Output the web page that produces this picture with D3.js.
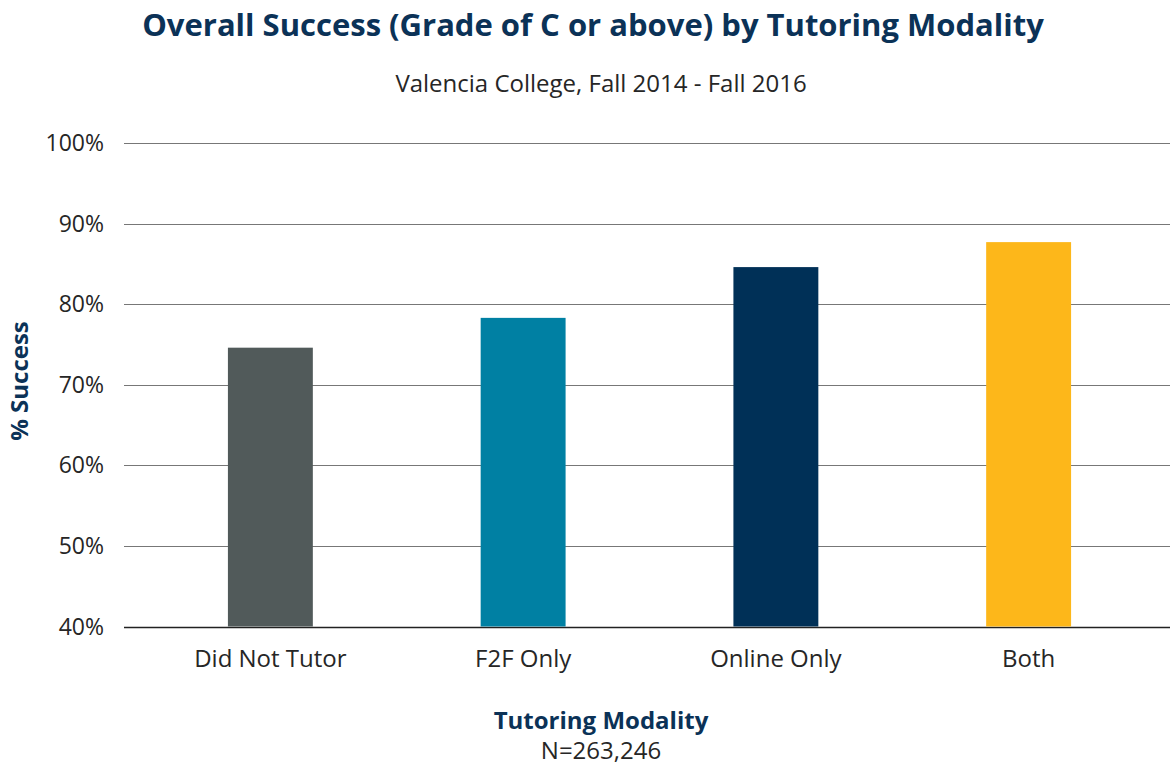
<!DOCTYPE html>
<html>
<head>
<meta charset="utf-8">
<script src="https://cdn.jsdelivr.net/npm/d3@7"></script>
<style>
  body { margin: 0; background: #fff; }
  text { font-family: "Open Sans", sans-serif; }
</style>
</head>
<body>
<svg id="chart"></svg>
<script>
var categories = ["Did Not Tutor", "F2F Only", "Online Only", "Both"];
var successPct = [74.6, 78.3, 84.6, 87.7];
var barColors = ["#515a5a", "#0080a3", "#003057", "#fdb71a"];
var yTicks = [40, 50, 60, 70, 80, 90, 100];

var width = 1170,
    height = 765;

var svg = d3.select("#chart")
    .attr("width", width)
    .attr("height", height);

var x = d3.scaleBand()
    .domain(categories)
    .range([144, 1155])
    .paddingInner(0.664)
    .paddingOuter(0.332);

var y = d3.scaleLinear()
    .domain([40, 100])
    .range([626.5, 143]);

// gridlines
svg.append("g")
    .selectAll("line")
    .data(yTicks)
    .enter()
    .append("line")
    .attr("x1", 124)
    .attr("x2", width)
    .attr("y1", d => Math.round(y(d)) + 0.5)
    .attr("y2", d => Math.round(y(d)) + 0.5)
    .style("stroke", d => d == 40 ? "#222" : "#777")
    .style("stroke-width", d => d == 40 ? 1.5 : 1.2);

// y tick labels
svg.append("g")
    .selectAll("text")
    .data(yTicks)
    .enter()
    .append("text")
    .attr("x", 104)
    .attr("y", d => y(d))
    .attr("dy", "0.35em")
    .attr("text-anchor", "end")
    .style("font-size", "23px")
    .style("fill", "#262626")
    .text(d => d + "%");

// bars
svg.append("g")
    .selectAll("rect")
    .data(categories)
    .enter()
    .append("rect")
    .attr("x", d => x(d))
    .attr("width", x.bandwidth())
    .attr("y", (d, i) => y(successPct[i]))
    .attr("height", (d, i) => y(40) - y(successPct[i]))
    .style("fill", (d, i) => barColors[i]);

// x labels
svg.append("g")
    .selectAll("text")
    .data(categories)
    .enter()
    .append("text")
    .attr("x", d => x(d) + x.bandwidth() / 2)
    .attr("y", 667)
    .attr("text-anchor", "middle")
    .style("font-size", "24px")
    .style("fill", "#262626")
    .text(d => d);

// titles
svg.append("text")
    .attr("x", 593)
    .attr("y", 36)
    .attr("text-anchor", "middle")
    .style("font-size", "31px")
    .style("font-weight", "bold")
    .style("fill", "#0b3257")
    .text("Overall Success (Grade of C or above) by Tutoring Modality");

svg.append("text")
    .attr("x", 601)
    .attr("y", 92)
    .attr("text-anchor", "middle")
    .style("font-size", "24px")
    .style("fill", "#262626")
    .text("Valencia College, Fall 2014 - Fall 2016");

svg.append("text")
    .attr("x", 601)
    .attr("y", 729)
    .attr("text-anchor", "middle")
    .style("font-size", "24px")
    .style("font-weight", "bold")
    .style("fill", "#0b3257")
    .text("Tutoring Modality");

svg.append("text")
    .attr("x", 601)
    .attr("y", 759)
    .attr("text-anchor", "middle")
    .style("font-size", "24px")
    .style("fill", "#262626")
    .text("N=263,246");

svg.append("text")
    .attr("transform", "translate(28,381) rotate(-90)")
    .attr("text-anchor", "middle")
    .style("font-size", "24px")
    .style("font-weight", "bold")
    .style("fill", "#0b3257")
    .text("% Success");
</script>
</body>
</html>
